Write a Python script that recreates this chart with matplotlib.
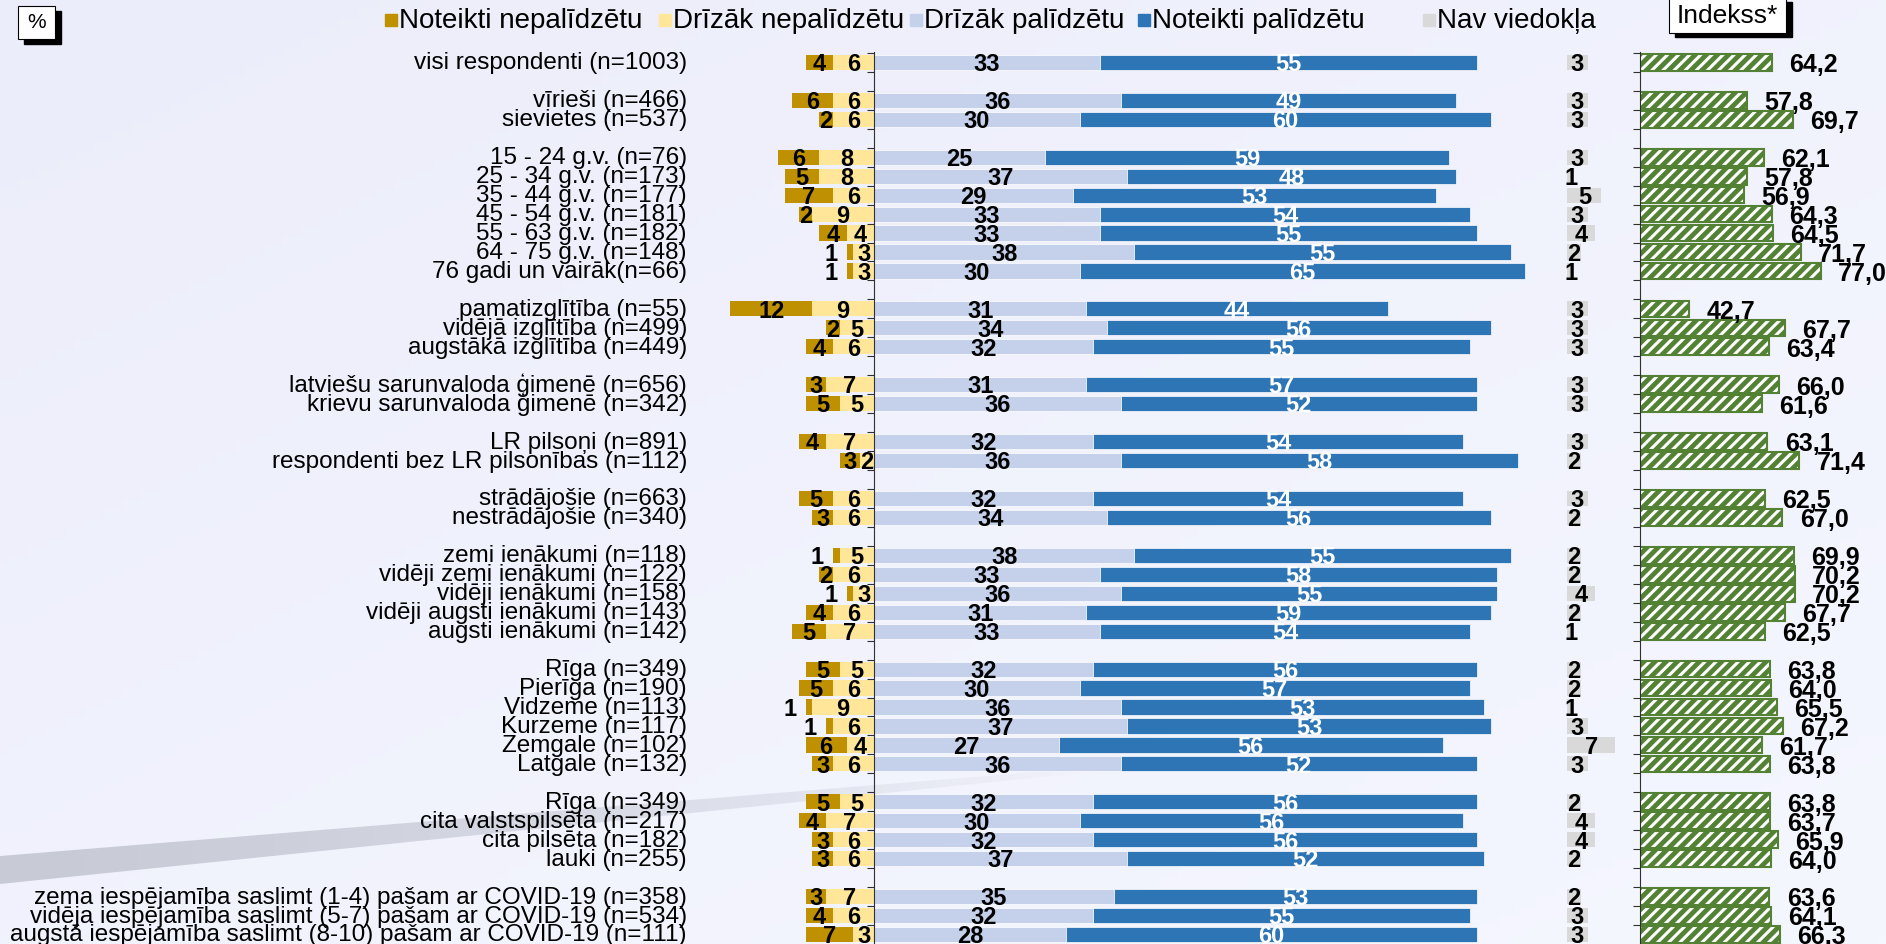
import matplotlib.pyplot as plt
import numpy as np
from matplotlib.patches import Rectangle, Polygon

plt.rcParams['font.family'] = ['Liberation Sans', 'DejaVu Sans']
plt.rcParams['hatch.linewidth'] = 2.2

categories = [
    'visi respondenti (n=1003)',
    'vīrieši (n=466)', 'sievietes (n=537)',
    '15 - 24 g.v. (n=76)', '25 - 34 g.v. (n=173)', '35 - 44 g.v. (n=177)',
    '45 - 54 g.v. (n=181)', '55 - 63 g.v. (n=182)', '64 - 75 g.v. (n=148)',
    '76 gadi un vairāk(n=66)',
    'pamatizglītība (n=55)', 'vidējā izglītība (n=499)', 'augstākā izglītība (n=449)',
    'latviešu sarunvaloda ģimenē (n=656)', 'krievu sarunvaloda ģimenē (n=342)',
    'LR pilsoņi (n=891)', 'respondenti bez LR pilsonības (n=112)',
    'strādājošie (n=663)', 'nestrādājošie (n=340)',
    'zemi ienākumi (n=118)', 'vidēji zemi ienākumi (n=122)', 'vidēji ienākumi (n=158)',
    'vidēji augsti ienākumi (n=143)', 'augsti ienākumi (n=142)',
    'Rīga (n=349)', 'Pierīga (n=190)', 'Vidzeme (n=113)', 'Kurzeme (n=117)',
    'Zemgale (n=102)', 'Latgale (n=132)',
    'Rīga (n=349)', 'cita valstspilsēta (n=217)', 'cita pilsēta (n=182)', 'lauki (n=255)',
    'zema iespējamība saslimt (1-4) pašam ar COVID-19 (n=358)',
    'vidēja iespējamība saslimt (5-7) pašam ar COVID-19 (n=534)',
    'augstā iespējamība saslimt (8-10) pašam ar COVID-19 (n=111)',
]
group_sizes = [1, 2, 7, 3, 2, 2, 2, 5, 6, 4, 3]

surely_not = [4, 6, 2, 6, 5, 7, 2, 4, 1, 1, 12, 2, 4, 3, 5, 4, 3, 5, 3,
              1, 2, 1, 4, 5, 5, 5, 1, 1, 6, 3, 5, 4, 3, 3, 3, 4, 7]
rather_not = [6, 6, 6, 8, 8, 6, 9, 4, 3, 3, 9, 5, 6, 7, 5, 7, 2, 6, 6,
              5, 6, 3, 6, 7, 5, 6, 9, 6, 4, 6, 5, 7, 6, 6, 7, 6, 3]
rather_yes = [33, 36, 30, 25, 37, 29, 33, 33, 38, 30, 31, 34, 32, 31, 36, 32, 36, 32, 34,
              38, 33, 36, 31, 33, 32, 30, 36, 37, 27, 36, 32, 30, 32, 37, 35, 32, 28]
surely_yes = [55, 49, 60, 59, 48, 53, 54, 55, 55, 65, 44, 56, 55, 57, 52, 54, 58, 54, 56,
              55, 58, 55, 59, 54, 56, 57, 53, 53, 56, 52, 56, 56, 56, 52, 53, 55, 60]
no_opinion = [3, 3, 3, 3, 1, 5, 3, 4, 2, 1, 3, 3, 3, 3, 3, 3, 2, 3, 2,
              2, 2, 4, 2, 1, 2, 2, 1, 3, 7, 3, 2, 4, 4, 2, 2, 3, 3]
index_vals = [64.2, 57.8, 69.7, 62.1, 57.8, 56.9, 64.3, 64.5, 71.7, 77.0, 42.7, 67.7, 63.4,
              66.0, 61.6, 63.1, 71.4, 62.5, 67.0, 69.9, 70.2, 70.2, 67.7, 62.5,
              63.8, 64.0, 65.5, 67.2, 61.7, 63.8, 63.8, 63.7, 65.9, 64.0, 63.6, 64.1, 66.3]

legend_labels = ['Noteikti nepalīdzētu', 'Drīzāk nepalīdzētu', 'Drīzāk palīdzētu',
                 'Noteikti palīdzētu', 'Nav viedokļa']
colors = ['#BF9000', '#FFE699', '#C5D1EA', '#2E75B6', '#D9D9D9']
green = '#548235'

W, H = 1886, 944
fig = plt.figure(figsize=(W / 100, H / 100), dpi=100)

# background with soft gradient and grey swoosh
bg = fig.add_axes([0, 0, 1, 1], zorder=-10)
bg.set_xlim(0, W)
bg.set_ylim(H, 0)
bg.axis('off')
gx, gy = np.meshgrid(np.linspace(0, 1, 200), np.linspace(0, 1, 100))
t = (0.5 * gx + 0.5 * gy)[..., None]
c0 = np.array([236, 237, 250]) / 255
c1 = np.array([245, 247, 255]) / 255
bg.imshow(c0 * (1 - t) + c1 * t, extent=(0, W, H, 0), aspect='auto', zorder=0)
sw = np.zeros((1, 300, 4))
sw[..., :3] = np.array([200, 203, 214]) / 255
sw[..., 3] = 1 - np.linspace(0, 1, 300) ** 1.5
im = bg.imshow(sw, extent=(0, 1110, H, 0), aspect='auto', zorder=1)
clip = Polygon([(0, 856), (1110, 766), (1110, 770), (0, 884)], closed=True,
               transform=bg.transData)
im.set_clip_path(clip)

# legend
sq_x = [385, 659, 910, 1138, 1423]
for x, lab, c in zip(sq_x, legend_labels, colors):
    bg.add_patch(Rectangle((x, 14), 12, 12, color=c, zorder=2))
    bg.text(x + 14, 21, lab, fontsize=20, va='center', ha='left', zorder=3)

# "%" and "Indekss*" boxes
bg.add_patch(Rectangle((24, 11), 37, 33, color='black', zorder=2))
bg.add_patch(Rectangle((18, 6), 37, 33, facecolor='white', edgecolor='black', lw=0.8, zorder=3))
bg.text(36.5, 23, '%', fontsize=15, ha='center', va='center', zorder=4)
bg.add_patch(Rectangle((1675, 2), 117, 35, color='black', zorder=2))
bg.add_patch(Rectangle((1669, -2), 117, 35, facecolor='white', edgecolor='black', lw=0.8, zorder=3))
bg.text(1727, 16, 'Indekss*', fontsize=19, ha='center', va='center', zorder=4)

# row positions with one empty slot between groups
pos = []
slot = 0
for g in group_sizes:
    for i in range(g):
        pos.append(slot)
        slot += 1
    slot += 1
pos = np.array(pos)

sn = np.array(surely_not)
rn = np.array(rather_not)
ry = np.array(rather_yes)
sy = np.array(surely_yes)
no = np.array(no_opinion)
nav0 = 101.2

ytop, ybot = -0.55, 46.5
ax = fig.add_axes([700 / W, 0, 920 / W, 1 - 52 / H])
ax.set_facecolor('none')
bh = 0.8
ax.barh(pos, -rn, height=bh, color=colors[1], edgecolor='none')
ax.barh(pos, -sn, left=-rn, height=bh, color=colors[0], edgecolor='none')
ax.barh(pos, ry, height=bh, color=colors[2], edgecolor='white', lw=0.5)
ax.barh(pos, sy, left=ry, height=bh, color=colors[3], edgecolor='white', lw=0.5)
ax.barh(pos, no, left=nav0, height=bh, color=colors[4], edgecolor='none')

fs = 17
dy = 0.12
for i, p in enumerate(pos):
    if sn[i] <= 1:
        xd = -(rn[i] + sn[i]) - 2.3
    else:
        xd = -(rn[i] + sn[i] / 2)
    kw = dict(fontsize=fs, fontweight='bold', ha='center', va='center', clip_on=False)
    ax.text(xd, p + dy, str(sn[i]), **kw)
    ax.text(-rn[i] / 2, p + dy, str(rn[i]), **kw)
    ax.text(ry[i] / 2, p + dy, str(ry[i]), **kw)
    ax.text(ry[i] + sy[i] / 2, p + dy, str(sy[i]), color='white', **kw)
    ax.text(nav0 + no[i] / 2, p + dy, str(no[i]), **kw)
    ax.text(-27.3, p + 0.05, categories[i], fontsize=17.5, ha='right', va='center',
            clip_on=False)

ax.set_xlim((700 - 874) / 6.85, (1620 - 874) / 6.85)
ax.set_ylim(ybot, ytop)
for s in ['top', 'right', 'bottom']:
    ax.spines[s].set_visible(False)
ax.spines['left'].set_position(('data', 0))
ax.spines['left'].set_color('#303030')
ax.set_xticks([])
ax.set_yticks(np.arange(-0.5, 46.5, 1.0))
ax.set_yticklabels([])
ax.tick_params(axis='y', direction='out', length=5, width=0.8, color='#303030')

# index panel
ax2 = fig.add_axes([1640 / W, 0, 246 / W, 1 - 52 / H])
ax2.set_facecolor('none')
idx = np.array(index_vals)
ax2.barh(pos, idx - 30, left=30, height=0.88, facecolor=green, edgecolor='white',
         hatch='///', lw=0)
ax2.barh(pos, idx - 30, left=30, height=0.88, fill=False, edgecolor=green, lw=1.5)
for v, p in zip(idx, pos):
    ax2.text(v + 4.5, p + 0.15, f'{v:.1f}'.replace('.', ','), fontsize=18,
             fontweight='bold', ha='left', va='center', clip_on=False)
ax2.set_xlim(30, 30 + 246 / 3.85)
ax2.set_ylim(ybot, ytop)
for s in ['top', 'right', 'bottom']:
    ax2.spines[s].set_visible(False)
ax2.spines['left'].set_color('#303030')
ax2.set_xticks([])
ax2.set_yticks(np.arange(-0.5, 46.5, 1.0))
ax2.set_yticklabels([])
ax2.tick_params(axis='y', direction='out', length=5, width=0.8, color='#303030')

fig.savefig('out.png', dpi=100)
